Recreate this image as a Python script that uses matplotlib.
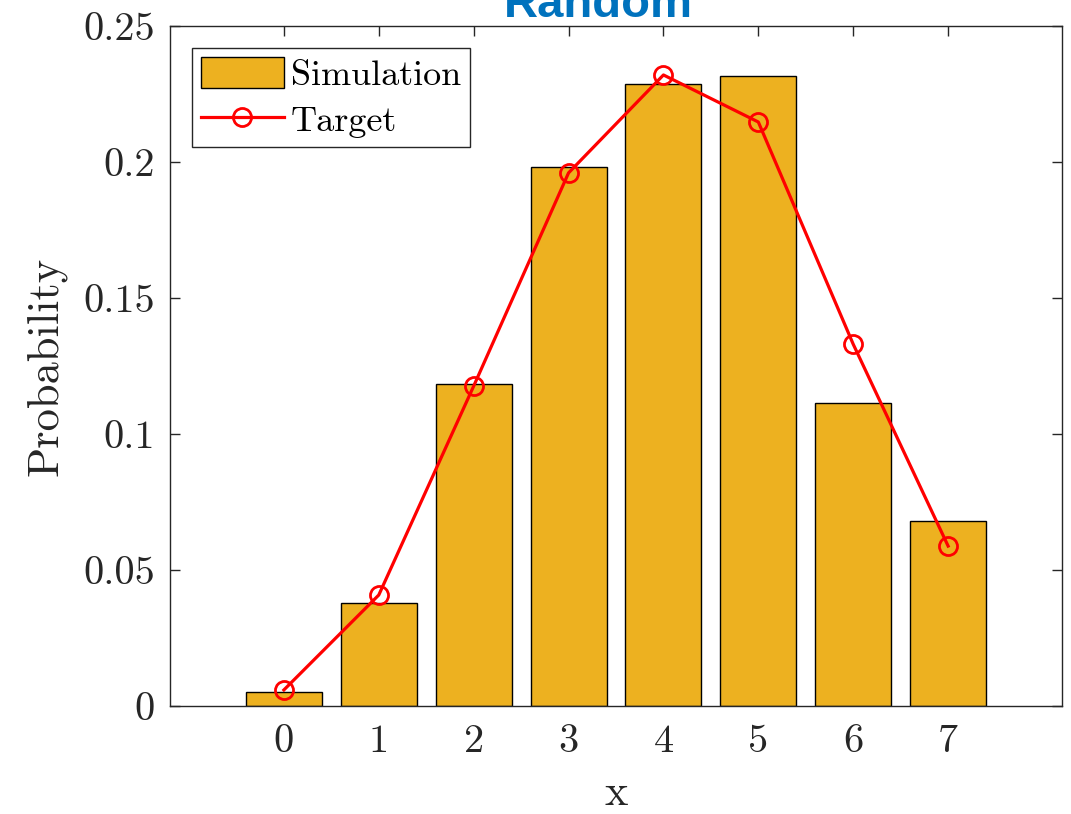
import numpy as np
import matplotlib
matplotlib.use("Agg")
import matplotlib.pyplot as plt

# outcome values and probabilities
x_vals = [0, 1, 2, 3, 4, 5, 6, 7]
sim_prob = [0.0051, 0.0380, 0.1184, 0.1981, 0.2287, 0.2316, 0.1114, 0.0680]
target_prob = [0.0059, 0.0408, 0.1176, 0.1960, 0.2320, 0.2147, 0.1330, 0.0588]

y_ticks = [0, 0.05, 0.1, 0.15, 0.2, 0.25]
y_tick_labels = ["0", "0.05", "0.1", "0.15", "0.2", "0.25"]

BAR_COLOR = "#EDB120"
AX_COLOR = "#262626"

plt.rcParams["font.family"] = ["cmr10", "DejaVu Serif"]
plt.rcParams["axes.formatter.use_mathtext"] = True
plt.rcParams["mathtext.fontset"] = "cm"

fig = plt.figure(figsize=(10.71, 8.14), dpi=100)
ax = fig.add_axes([170 / 1071, 1 - 706 / 814, 892 / 1071, 680 / 814])

bars = ax.bar(x_vals, sim_prob, width=0.8, color=BAR_COLOR, edgecolor="black",
              linewidth=1.0, label="Simulation", zorder=2)
line, = ax.plot(x_vals, target_prob, color="red", linewidth=2.3, marker="o",
                markersize=13, markerfacecolor="none", markeredgewidth=2.0,
                label="Target", zorder=3)

ax.set_xlim(-1.2, 8.2)
ax.set_ylim(0, 0.25)
ax.set_xticks(x_vals)
ax.set_xticklabels([str(v) for v in x_vals])
ax.set_yticks(y_ticks)
ax.set_yticklabels(y_tick_labels)

ax.tick_params(direction="in", length=7, width=1, colors=AX_COLOR,
               labelsize=29, top=True, right=True)
ax.tick_params(axis="x", pad=13)
ax.tick_params(axis="y", pad=11)
for side in ax.spines.values():
    side.set_color(AX_COLOR)
    side.set_linewidth(1.0)

ax.set_xlabel("x", fontsize=32, color=AX_COLOR, labelpad=10)
ax.set_ylabel("Probability", fontsize=32, color=AX_COLOR, labelpad=12)

leg = ax.legend([bars, line], ["Simulation", "Target"], loc="upper left",
                fontsize=26, fancybox=False, edgecolor=AX_COLOR, framealpha=1,
                handlelength=2.3, handleheight=0.95, handletextpad=0.2,
                labelspacing=0.3, borderpad=0.25, borderaxespad=0.6)
leg.get_frame().set_linewidth(1.0)

fig.text(598 / 1071, 1 - 17 / 814, "Random", color="#0072BD",
         fontsize=34, fontweight="bold", family="Liberation Sans",
         ha="center", va="baseline")

fig.savefig("out.png", dpi=100)
